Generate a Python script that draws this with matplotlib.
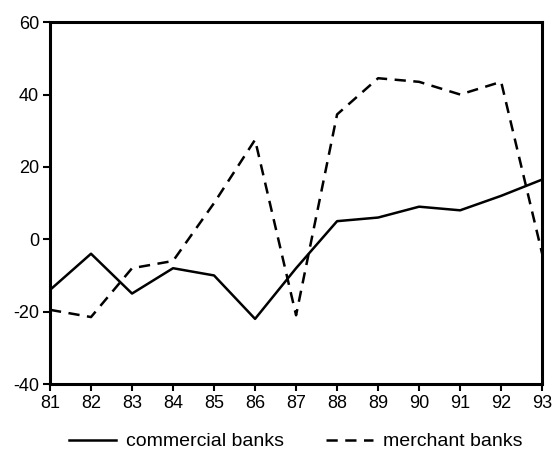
import matplotlib
matplotlib.use("Agg")
import matplotlib.pyplot as plt

plt.rcParams['font.family'] = ['Liberation Sans', 'DejaVu Sans']
plt.rcParams['axes.unicode_minus'] = False

years = [81, 82, 83, 84, 85, 86, 87, 88, 89, 90, 91, 92, 93]
commercial = [-14, -4, -15, -8, -10, -22, -8, 5, 6, 9, 8, 12, 16.5]
merchant = [-19.5, -21.5, -8, -6, 10, 27.5, -21, 34.5, 44.5, 43.5, 40, 43.5, -4]
yticks = [-40, -20, 0, 20, 40, 60]

fig = plt.figure(figsize=(5.58, 4.61), dpi=100)
ax = fig.add_axes([0.0896, 0.167, 0.882, 0.785])

ax.plot(years, commercial, color='black', lw=1.8, label='commercial banks')
ax.plot(years, merchant, color='black', lw=1.8, dashes=(4.5, 3), label='merchant banks')

ax.set_xlim(81, 93)
ax.set_ylim(-40, 60)
ax.set_xticks(years)
ax.set_yticks(yticks)
for s in ax.spines.values():
    s.set_linewidth(2.2)
ax.tick_params(axis='both', direction='out', length=5, width=1.5, labelsize=13, pad=3)

fig.legend(loc='lower center', bbox_to_anchor=(0.53, -0.015), ncol=2, frameon=False,
           fontsize=14, handlelength=2.4, columnspacing=2.2, handletextpad=0.5)

fig.savefig('out.png', dpi=100)
